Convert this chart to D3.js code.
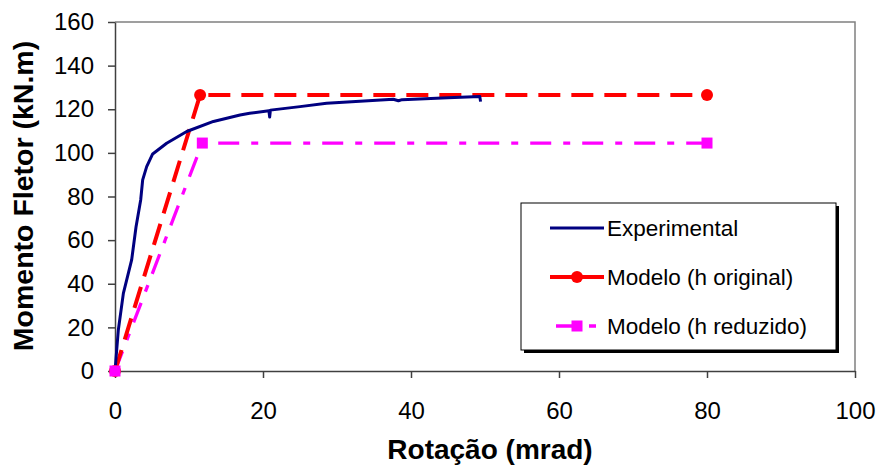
<!DOCTYPE html>
<html><head><meta charset="utf-8">
<script src="https://cdn.jsdelivr.net/npm/d3@7"></script>
<style>body{margin:0;background:#fff}svg{display:block}</style>
</head><body><svg id="c" width="882" height="465"></svg>
<script>
const xTicks = [0,20,40,60,80,100];
const yTicks = [0,20,40,60,80,100,120,140,160];
const expRot = [0,0.45,1.13,2.25,2.84,3.47,3.74,4.28,5.09,6.98,9.69,13.3,16.9,18.2,20.8,20.9,21.0,25,28.6,37.6,38.3,38.8,45,49.3,49.4];
const expMom = [0,18.8,35.6,50.9,66,78.4,87.6,93.7,99.5,104.4,109.8,114.4,117.4,118.2,119.3,116.4,119.6,121.2,122.8,124.6,123.9,124.4,125.3,125.8,123.5];
const origRot = [0,11.5,80];
const origMom = [0,126.5,126.5];
const redRot = [0,11.8,80];
const redMom = [0,104.5,104.5];
const legendLabels = ["Experimental","Modelo (h original)","Modelo (h reduzido)"];

const svg = d3.select("#c");
const L=115,R=855,T=22,B=371;
const x = d3.scaleLinear().domain([0,100]).range([L,R]);
const y = d3.scaleLinear().domain([0,160]).range([B,T]);
const font = "Liberation Sans, Arial, sans-serif";

svg.append("path").attr("d",`M${L},${T}H${R}V${B}`).attr("fill","none").attr("stroke","#808080").attr("stroke-width",1.5);

const xa = svg.append("g").attr("transform",`translate(0,${B})`)
  .call(d3.axisBottom(x).tickValues(xTicks).tickSize(7).tickPadding(24).tickSizeOuter(0));
const ya = svg.append("g").attr("transform",`translate(${L},0)`)
  .call(d3.axisLeft(y).tickValues(yTicks).tickSize(7).tickPadding(14).tickSizeOuter(0));
[xa,ya].forEach(a=>{
  a.selectAll("path,line").attr("stroke","#404040").attr("stroke-width",1.5);
  a.selectAll("text").attr("font-family",font).attr("font-size",24).attr("fill","#000");
});

svg.append("text").attr("x",490).attr("y",459).attr("text-anchor","middle")
  .attr("font-family",font).attr("font-weight","bold").attr("font-size",28).text("Rotação (mrad)");
svg.append("text").attr("transform","translate(33,196) rotate(-90)").attr("text-anchor","middle")
  .attr("font-family",font).attr("font-weight","bold").attr("font-size",28.5).text("Momento Fletor (kN.m)");

const line = d3.line().x(d=>x(d[0])).y(d=>y(d[1]));
const pts = (a,b)=>a.map((v,i)=>[v,b[i]]);

const g = svg.append("g");
g.append("path").datum(pts(redRot,redMom)).attr("d",line).attr("fill","none")
  .attr("stroke","#ff00ff").attr("stroke-width",3.3).attr("stroke-dasharray","21,12,7,12");
g.append("path").datum(pts(origRot,origMom)).attr("d",line).attr("fill","none")
  .attr("stroke","#ff0000").attr("stroke-width",4).attr("stroke-dasharray","22,11");
g.append("path").datum(pts(expRot,expMom)).attr("d",line).attr("fill","none")
  .attr("stroke","#000080").attr("stroke-width",3).attr("stroke-linejoin","round");
g.selectAll("circle.o").data(pts(origRot,origMom)).join("circle").attr("cx",d=>x(d[0])).attr("cy",d=>y(d[1])).attr("r",6).attr("fill","#ff0000");
g.selectAll("rect.r").data(pts(redRot,redMom)).join("rect").attr("x",d=>x(d[0])-5.5).attr("y",d=>y(d[1])-5.5).attr("width",11).attr("height",11).attr("fill","#ff00ff");

const lg = svg.append("g");
lg.append("rect").attr("x",524).attr("y",206).attr("width",315).attr("height",147).attr("fill","#000");
lg.append("rect").attr("x",521).attr("y",203).attr("width",315).attr("height",147).attr("fill","#fff").attr("stroke","#000").attr("stroke-width",1);
const ly=[228,277,326];
lg.append("line").attr("x1",550).attr("x2",604).attr("y1",ly[0]).attr("y2",ly[0]).attr("stroke","#000080").attr("stroke-width",3);
lg.append("line").attr("x1",550).attr("x2",604).attr("y1",ly[1]).attr("y2",ly[1]).attr("stroke","#ff0000").attr("stroke-width",4);
lg.append("circle").attr("cx",577).attr("cy",ly[1]).attr("r",6).attr("fill","#ff0000");
lg.append("line").attr("x1",550).attr("x2",604).attr("y1",ly[2]).attr("y2",ly[2]).attr("stroke","#ff00ff").attr("stroke-width",3.3).attr("stroke-dasharray","21,12,7,12").attr("stroke-dashoffset",-6);
lg.append("rect").attr("x",571.5).attr("y",ly[2]-5.5).attr("width",11).attr("height",11).attr("fill","#ff00ff");
legendLabels.forEach((t,i)=>lg.append("text").attr("x",607).attr("y",ly[i]+8).attr("font-family",font).attr("font-size",22.5).text(t));
</script></body></html>
